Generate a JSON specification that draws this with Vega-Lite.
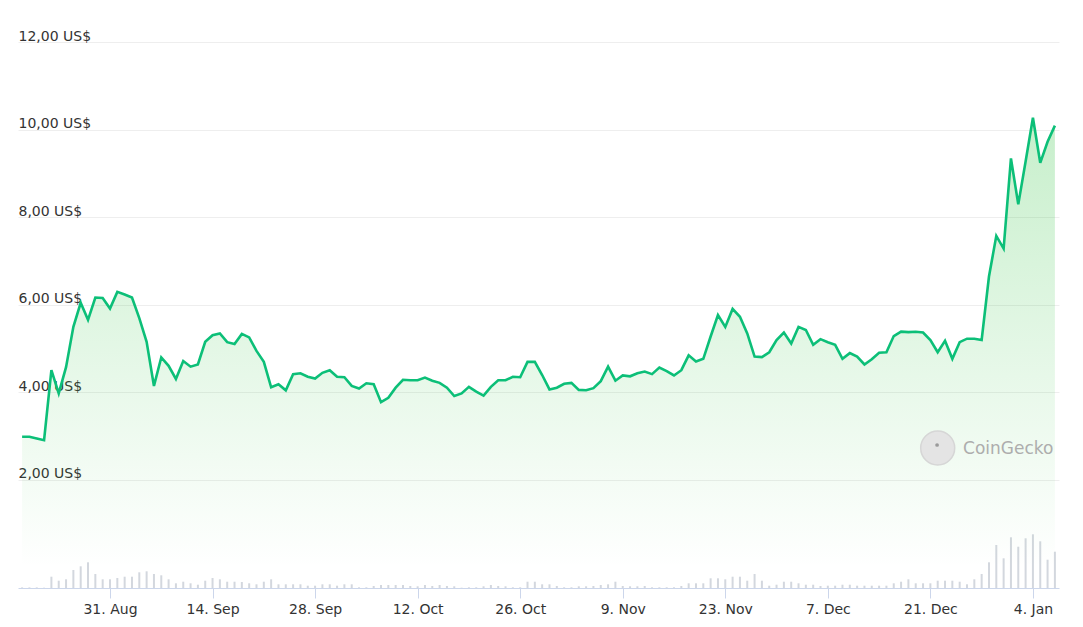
{
  "$schema": "https://vega.github.io/schema/vega-lite/v6.json",
  "width": 1041,
  "height": 588,
  "autosize": {"type": "none"},
  "padding": {"left": 18, "top": 0, "right": 24, "bottom": 39},
  "background": "#ffffff",
  "config": {
    "view": {"stroke": null},
    "font": "DejaVu Sans",
    "axis": {"labelFont": "DejaVu Sans", "labelFontSize": 14, "labelColor": "#333333", "title": null}
  },
  "datasets": {
    "series": [
      {"date": "2023-08-19", "price": 2.99, "volume": 0.06},
      {"date": "2023-08-20", "price": 2.99, "volume": 0.06},
      {"date": "2023-08-21", "price": 2.95, "volume": 0.06},
      {"date": "2023-08-22", "price": 2.91, "volume": 0.03},
      {"date": "2023-08-23", "price": 4.51, "volume": 1.13},
      {"date": "2023-08-24", "price": 3.98, "volume": 0.73},
      {"date": "2023-08-25", "price": 4.58, "volume": 0.87},
      {"date": "2023-08-26", "price": 5.50, "volume": 1.80},
      {"date": "2023-08-27", "price": 6.05, "volume": 2.17},
      {"date": "2023-08-28", "price": 5.66, "volume": 2.57},
      {"date": "2023-08-29", "price": 6.17, "volume": 1.40},
      {"date": "2023-08-30", "price": 6.16, "volume": 0.87},
      {"date": "2023-08-31", "price": 5.92, "volume": 0.87},
      {"date": "2023-09-01", "price": 6.30, "volume": 1.00},
      {"date": "2023-09-02", "price": 6.24, "volume": 1.13},
      {"date": "2023-09-03", "price": 6.17, "volume": 1.13},
      {"date": "2023-09-04", "price": 5.70, "volume": 1.57},
      {"date": "2023-09-05", "price": 5.16, "volume": 1.67},
      {"date": "2023-09-06", "price": 4.15, "volume": 1.40},
      {"date": "2023-09-07", "price": 4.80, "volume": 1.27},
      {"date": "2023-09-08", "price": 4.61, "volume": 0.87},
      {"date": "2023-09-09", "price": 4.31, "volume": 0.47},
      {"date": "2023-09-10", "price": 4.72, "volume": 0.63},
      {"date": "2023-09-11", "price": 4.59, "volume": 0.47},
      {"date": "2023-09-12", "price": 4.64, "volume": 0.33},
      {"date": "2023-09-13", "price": 5.16, "volume": 0.73},
      {"date": "2023-09-14", "price": 5.31, "volume": 1.00},
      {"date": "2023-09-15", "price": 5.35, "volume": 0.87},
      {"date": "2023-09-16", "price": 5.15, "volume": 0.63},
      {"date": "2023-09-17", "price": 5.11, "volume": 0.63},
      {"date": "2023-09-18", "price": 5.34, "volume": 0.60},
      {"date": "2023-09-19", "price": 5.26, "volume": 0.47},
      {"date": "2023-09-20", "price": 4.95, "volume": 0.37},
      {"date": "2023-09-21", "price": 4.70, "volume": 0.63},
      {"date": "2023-09-22", "price": 4.12, "volume": 0.87},
      {"date": "2023-09-23", "price": 4.19, "volume": 0.37},
      {"date": "2023-09-24", "price": 4.05, "volume": 0.37},
      {"date": "2023-09-25", "price": 4.42, "volume": 0.37},
      {"date": "2023-09-26", "price": 4.44, "volume": 0.37},
      {"date": "2023-09-27", "price": 4.36, "volume": 0.23},
      {"date": "2023-09-28", "price": 4.32, "volume": 0.23},
      {"date": "2023-09-29", "price": 4.45, "volume": 0.37},
      {"date": "2023-09-30", "price": 4.51, "volume": 0.37},
      {"date": "2023-10-01", "price": 4.36, "volume": 0.23},
      {"date": "2023-10-02", "price": 4.35, "volume": 0.37},
      {"date": "2023-10-03", "price": 4.15, "volume": 0.37},
      {"date": "2023-10-04", "price": 4.09, "volume": 0.07},
      {"date": "2023-10-05", "price": 4.21, "volume": 0.07},
      {"date": "2023-10-06", "price": 4.19, "volume": 0.20},
      {"date": "2023-10-07", "price": 3.78, "volume": 0.30},
      {"date": "2023-10-08", "price": 3.88, "volume": 0.30},
      {"date": "2023-10-09", "price": 4.11, "volume": 0.30},
      {"date": "2023-10-10", "price": 4.29, "volume": 0.30},
      {"date": "2023-10-11", "price": 4.28, "volume": 0.20},
      {"date": "2023-10-12", "price": 4.28, "volume": 0.17},
      {"date": "2023-10-13", "price": 4.34, "volume": 0.30},
      {"date": "2023-10-14", "price": 4.27, "volume": 0.20},
      {"date": "2023-10-15", "price": 4.22, "volume": 0.30},
      {"date": "2023-10-16", "price": 4.11, "volume": 0.20},
      {"date": "2023-10-17", "price": 3.92, "volume": 0.17},
      {"date": "2023-10-18", "price": 3.98, "volume": 0.03},
      {"date": "2023-10-19", "price": 4.13, "volume": 0.07},
      {"date": "2023-10-20", "price": 4.02, "volume": 0.07},
      {"date": "2023-10-21", "price": 3.93, "volume": 0.17},
      {"date": "2023-10-22", "price": 4.13, "volume": 0.30},
      {"date": "2023-10-23", "price": 4.28, "volume": 0.20},
      {"date": "2023-10-24", "price": 4.28, "volume": 0.17},
      {"date": "2023-10-25", "price": 4.36, "volume": 0.07},
      {"date": "2023-10-26", "price": 4.35, "volume": 0.07},
      {"date": "2023-10-27", "price": 4.70, "volume": 0.63},
      {"date": "2023-10-28", "price": 4.70, "volume": 0.63},
      {"date": "2023-10-29", "price": 4.40, "volume": 0.37},
      {"date": "2023-10-30", "price": 4.07, "volume": 0.37},
      {"date": "2023-10-31", "price": 4.11, "volume": 0.20},
      {"date": "2023-11-01", "price": 4.20, "volume": 0.07},
      {"date": "2023-11-02", "price": 4.22, "volume": 0.07},
      {"date": "2023-11-03", "price": 4.06, "volume": 0.17},
      {"date": "2023-11-04", "price": 4.05, "volume": 0.17},
      {"date": "2023-11-05", "price": 4.10, "volume": 0.20},
      {"date": "2023-11-06", "price": 4.26, "volume": 0.30},
      {"date": "2023-11-07", "price": 4.59, "volume": 0.37},
      {"date": "2023-11-08", "price": 4.27, "volume": 0.63},
      {"date": "2023-11-09", "price": 4.39, "volume": 0.20},
      {"date": "2023-11-10", "price": 4.37, "volume": 0.17},
      {"date": "2023-11-11", "price": 4.44, "volume": 0.17},
      {"date": "2023-11-12", "price": 4.48, "volume": 0.20},
      {"date": "2023-11-13", "price": 4.42, "volume": 0.07},
      {"date": "2023-11-14", "price": 4.57, "volume": 0.07},
      {"date": "2023-11-15", "price": 4.49, "volume": 0.07},
      {"date": "2023-11-16", "price": 4.39, "volume": 0.07},
      {"date": "2023-11-17", "price": 4.51, "volume": 0.20},
      {"date": "2023-11-18", "price": 4.85, "volume": 0.47},
      {"date": "2023-11-19", "price": 4.71, "volume": 0.47},
      {"date": "2023-11-20", "price": 4.77, "volume": 0.47},
      {"date": "2023-11-21", "price": 5.28, "volume": 0.97},
      {"date": "2023-11-22", "price": 5.77, "volume": 0.97},
      {"date": "2023-11-23", "price": 5.50, "volume": 0.87},
      {"date": "2023-11-24", "price": 5.91, "volume": 1.13},
      {"date": "2023-11-25", "price": 5.73, "volume": 1.13},
      {"date": "2023-11-26", "price": 5.35, "volume": 0.73},
      {"date": "2023-11-27", "price": 4.82, "volume": 1.40},
      {"date": "2023-11-28", "price": 4.81, "volume": 0.73},
      {"date": "2023-11-29", "price": 4.92, "volume": 0.23},
      {"date": "2023-11-30", "price": 5.20, "volume": 0.33},
      {"date": "2023-12-01", "price": 5.37, "volume": 0.63},
      {"date": "2023-12-02", "price": 5.12, "volume": 0.63},
      {"date": "2023-12-03", "price": 5.50, "volume": 0.47},
      {"date": "2023-12-04", "price": 5.43, "volume": 0.33},
      {"date": "2023-12-05", "price": 5.09, "volume": 0.33},
      {"date": "2023-12-06", "price": 5.22, "volume": 0.20},
      {"date": "2023-12-07", "price": 5.15, "volume": 0.23},
      {"date": "2023-12-08", "price": 5.09, "volume": 0.23},
      {"date": "2023-12-09", "price": 4.77, "volume": 0.33},
      {"date": "2023-12-10", "price": 4.90, "volume": 0.33},
      {"date": "2023-12-11", "price": 4.82, "volume": 0.23},
      {"date": "2023-12-12", "price": 4.64, "volume": 0.23},
      {"date": "2023-12-13", "price": 4.76, "volume": 0.23},
      {"date": "2023-12-14", "price": 4.91, "volume": 0.23},
      {"date": "2023-12-15", "price": 4.92, "volume": 0.23},
      {"date": "2023-12-16", "price": 5.29, "volume": 0.47},
      {"date": "2023-12-17", "price": 5.39, "volume": 0.63},
      {"date": "2023-12-18", "price": 5.38, "volume": 0.87},
      {"date": "2023-12-19", "price": 5.39, "volume": 0.47},
      {"date": "2023-12-20", "price": 5.37, "volume": 0.47},
      {"date": "2023-12-21", "price": 5.20, "volume": 0.47},
      {"date": "2023-12-22", "price": 4.92, "volume": 0.73},
      {"date": "2023-12-23", "price": 5.18, "volume": 0.73},
      {"date": "2023-12-24", "price": 4.77, "volume": 0.73},
      {"date": "2023-12-25", "price": 5.15, "volume": 0.63},
      {"date": "2023-12-26", "price": 5.23, "volume": 0.37},
      {"date": "2023-12-27", "price": 5.23, "volume": 0.87},
      {"date": "2023-12-28", "price": 5.20, "volume": 1.40},
      {"date": "2023-12-29", "price": 6.65, "volume": 2.57},
      {"date": "2023-12-30", "price": 7.58, "volume": 4.30},
      {"date": "2023-12-31", "price": 7.29, "volume": 2.97},
      {"date": "2024-01-01", "price": 9.35, "volume": 5.07},
      {"date": "2024-01-02", "price": 8.30, "volume": 4.13},
      {"date": "2024-01-03", "price": 9.28, "volume": 4.97},
      {"date": "2024-01-04", "price": 10.28, "volume": 5.37},
      {"date": "2024-01-05", "price": 9.25, "volume": 4.67},
      {"date": "2024-01-06", "price": 9.73, "volume": 2.83},
      {"date": "2024-01-07", "price": 10.10, "volume": 3.63}
    ],
    "logo": [
      {"date": "2023-12-22", "price": 2.73}
    ],
    "eye": [
      {"date": "2023-12-21T22:00:00Z", "price": 2.80}
    ],
    "brand": [
      {"date": "2023-12-25T11:00:00Z", "price": 2.59, "label": "CoinGecko"}
    ]
  },
  "layer": [
    {
      "data": {"name": "series"},
      "mark": {"type": "bar", "size": 2, "color": "#d3d7de"},
      "encoding": {
        "x": {
          "field": "date",
          "type": "temporal",
          "scale": {
            "type": "utc",
            "padding": 0,
            "domain": [
              {"year": 2023, "month": 8, "date": 18, "hours": 10, "minutes": 34, "utc": true},
              {"year": 2024, "month": 1, "date": 7, "hours": 13, "minutes": 26, "utc": true}
            ]
          },
          "axis": {
            "title": null,
            "orient": "bottom",
            "grid": false,
            "domain": true,
            "domainColor": "#ccd6eb",
            "domainWidth": 1,
            "ticks": true,
            "tickColor": "#ccd6eb",
            "tickSize": 10,
            "tickWidth": 1,
            "labelPadding": 4,
            "labelFlush": false,
            "labelOverlap": false,
            "labelExpr": "utcFormat(datum.value, '%-d. %b')",
            "values": [
              {"year": 2023, "month": 8, "date": 31, "utc": true},
              {"year": 2023, "month": 9, "date": 14, "utc": true},
              {"year": 2023, "month": 9, "date": 28, "utc": true},
              {"year": 2023, "month": 10, "date": 12, "utc": true},
              {"year": 2023, "month": 10, "date": 26, "utc": true},
              {"year": 2023, "month": 11, "date": 9, "utc": true},
              {"year": 2023, "month": 11, "date": 23, "utc": true},
              {"year": 2023, "month": 12, "date": 7, "utc": true},
              {"year": 2023, "month": 12, "date": 21, "utc": true},
              {"year": 2024, "month": 1, "date": 4, "utc": true}
            ]
          }
        },
        "y": {
          "field": "volume",
          "type": "quantitative",
          "scale": {"domain": [0, 58.8], "nice": false, "zero": true},
          "axis": null
        }
      }
    },
    {
      "layer": [
        {
          "data": {"name": "series"},
          "mark": {
            "type": "area",
            "color": {
              "gradient": "linear",
              "x1": 0, "y1": 0, "x2": 0, "y2": 1,
              "stops": [
                {"offset": 0, "color": "rgba(47,195,63,0.27)"},
                {"offset": 1, "color": "rgba(47,195,63,0)"}
              ]
            }
          },
          "encoding": {
            "x": {"field": "date", "type": "temporal"},
            "y": {
              "field": "price",
              "type": "quantitative",
              "scale": {"domain": [-0.4686, 12.9714], "nice": false, "zero": false},
              "axis": {
                "orient": "left",
                "title": null,
                "values": [2, 4, 6, 8, 10, 12],
                "grid": true,
                "gridColor": "#eeeeee",
                "gridWidth": 1,
                "domain": false,
                "ticks": false,
                "tickSize": 0,
                "labelAlign": "left",
                "labelBaseline": "alphabetic",
                "labelPadding": 0,
                "labelOffset": -2,
                "labelFlush": false,
                "labelOverlap": false,
                "labelExpr": "replace(format(datum.value, '.2f'), '.', ',') + ' US$'"
              }
            }
          }
        },
        {
          "data": {"name": "series"},
          "mark": {"type": "line", "color": "#0cbf78", "strokeWidth": 2.6},
          "encoding": {
            "x": {"field": "date", "type": "temporal"},
            "y": {"field": "price", "type": "quantitative"}
          }
        },
        {
          "data": {"name": "logo"},
          "mark": {"type": "point", "shape": "circle", "filled": true, "size": 1156, "color": "#e4e4e4", "stroke": "#d6d6d6", "strokeWidth": 1.5, "opacity": 1},
          "encoding": {
            "x": {"field": "date", "type": "temporal"},
            "y": {"field": "price", "type": "quantitative"}
          }
        },
        {
          "data": {"name": "eye"},
          "mark": {"type": "point", "shape": "circle", "filled": true, "size": 14, "color": "#9a9a9a", "opacity": 1},
          "encoding": {
            "x": {"field": "date", "type": "temporal"},
            "y": {"field": "price", "type": "quantitative"}
          }
        },
        {
          "data": {"name": "brand"},
          "mark": {"type": "text", "align": "left", "baseline": "alphabetic", "font": "DejaVu Sans", "fontSize": 17, "color": "#adadad"},
          "encoding": {
            "x": {"field": "date", "type": "temporal"},
            "y": {"field": "price", "type": "quantitative"},
            "text": {"field": "label"}
          }
        }
      ]
    }
  ],
  "resolve": {"scale": {"y": "independent"}, "axis": {"y": "independent"}}
}
